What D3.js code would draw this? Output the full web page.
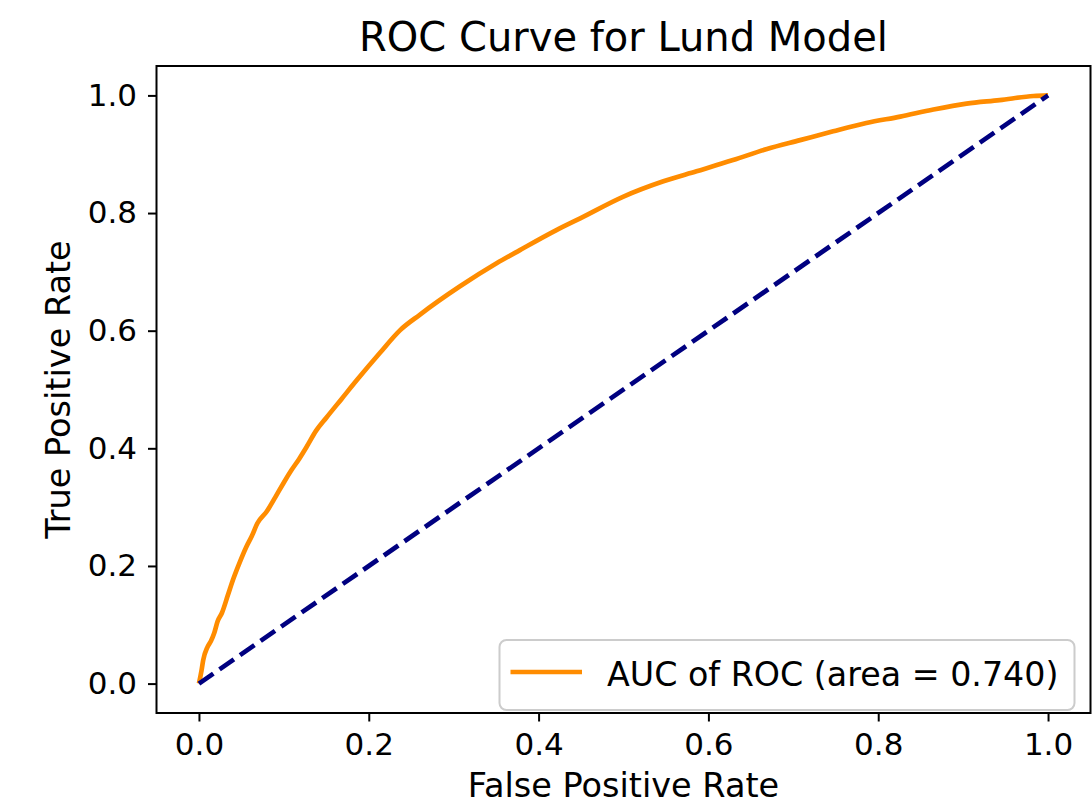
<!DOCTYPE html>
<html>
<head>
<meta charset="utf-8">
<script src="https://cdn.jsdelivr.net/npm/d3@7/dist/d3.min.js"></script>
<style>
  html, body { margin: 0; padding: 0; background: #fff; }
  svg { display: block; font-family: "DejaVu Sans", sans-serif; }
</style>
</head>
<body>
<svg id="chart" width="1092" height="809"></svg>
<script>
// ROC curve points (false positive rate, true positive rate)
const fpr = [0.000, 0.003, 0.005, 0.010, 0.014, 0.018, 0.022, 0.027, 0.034, 0.040, 0.048, 0.056, 0.062, 0.069, 0.080,
             0.090, 0.100, 0.109, 0.118, 0.127, 0.138, 0.150, 0.168, 0.186,
             0.213, 0.237, 0.260, 0.307, 0.351, 0.378, 0.421, 0.449, 0.500, 0.547, 0.586, 0.629,
             0.669, 0.708, 0.747, 0.786, 0.826, 0.865, 0.904, 0.943, 0.983, 1.000];
const tpr = [0.000, 0.022, 0.040, 0.062, 0.072, 0.086, 0.106, 0.120, 0.150, 0.176, 0.206, 0.233, 0.250, 0.273, 0.293,
             0.317, 0.342, 0.363, 0.382, 0.403, 0.430, 0.452, 0.484, 0.516,
             0.562, 0.601, 0.627, 0.675, 0.715, 0.737, 0.771, 0.791, 0.828, 0.854, 0.871, 0.890,
             0.909, 0.924, 0.939, 0.953, 0.964, 0.976, 0.986, 0.992, 0.999, 1.000];
// Chance diagonal
const chanceX = [0, 1];
const chanceY = [0, 1];
const tickValues = [0.0, 0.2, 0.4, 0.6, 0.8, 1.0];
const aucValue = 0.740;

const svg = d3.select("#chart");
const plotLeft = 156.5, plotRight = 1090.5, plotTop = 66, plotBottom = 713;

const x = d3.scaleLinear().domain([-0.05, 1.05]).range([plotLeft, plotRight]);
const y = d3.scaleLinear().domain([-0.05, 1.05]).range([plotBottom, plotTop]);

const plot = svg.append("g");
plot.append("clipPath").attr("id", "clip")
  .append("rect").attr("x", plotLeft).attr("y", plotTop)
  .attr("width", plotRight - plotLeft).attr("height", plotBottom - plotTop);

const rocLine = d3.line().x(d => x(d[0])).y(d => y(d[1])).curve(d3.curveMonotoneX);
const straight = d3.line().x(d => x(d[0])).y(d => y(d[1]));

plot.append("path")
  .datum(d3.zip(fpr, tpr))
  .attr("d", rocLine)
  .attr("fill", "none")
  .attr("stroke", "darkorange")
  .attr("stroke-width", 4.7)
  .attr("stroke-linejoin", "round")
  .attr("clip-path", "url(#clip)");

plot.append("path")
  .datum(d3.zip(chanceX, chanceY))
  .attr("d", straight)
  .attr("fill", "none")
  .attr("stroke", "navy")
  .attr("stroke-width", 4.7)
  .attr("stroke-dasharray", "17.5,7.5")
  .attr("clip-path", "url(#clip)");

// Axes
const fmt = d3.format(".1f");
const xAxis = svg.append("g").attr("transform", `translate(0,${plotBottom})`)
  .call(d3.axisBottom(x).tickValues(tickValues).tickFormat(fmt).tickSize(8.5).tickPadding(11.5));
const yAxis = svg.append("g").attr("transform", `translate(${plotLeft},0)`)
  .call(d3.axisLeft(y).tickValues(tickValues).tickFormat(fmt).tickSize(8.5).tickPadding(11));
[xAxis, yAxis].forEach(a => {
  a.select(".domain").remove();
  a.selectAll("line").attr("stroke", "#000").attr("stroke-width", 2);
  a.selectAll("text").attr("fill", "#000").style("font-size", "31px").style("font-family", "DejaVu Sans");
});

// Frame
svg.append("rect")
  .attr("x", plotLeft).attr("y", plotTop)
  .attr("width", plotRight - plotLeft).attr("height", plotBottom - plotTop)
  .attr("fill", "none").attr("stroke", "#000").attr("stroke-width", 2);

// Title and axis labels
svg.append("text").attr("x", (plotLeft + plotRight) / 2).attr("y", 51)
  .attr("text-anchor", "middle").style("font-size", "40px").text("ROC Curve for Lund Model");
svg.append("text").attr("x", (plotLeft + plotRight) / 2).attr("y", 797)
  .attr("text-anchor", "middle").style("font-size", "33.5px").text("False Positive Rate");
svg.append("text").attr("transform", `translate(70,${(plotTop + plotBottom) / 2}) rotate(-90)`)
  .attr("text-anchor", "middle").style("font-size", "33.5px").text("True Positive Rate");

// Legend
const lg = svg.append("g");
lg.append("rect").attr("x", 499.5).attr("y", 640).attr("width", 575).attr("height", 70)
  .attr("rx", 7).attr("fill", "#fff").attr("fill-opacity", 0.8)
  .attr("stroke", "#cccccc").attr("stroke-width", 2);
lg.append("line").attr("x1", 510.5).attr("x2", 582).attr("y1", 672).attr("y2", 672)
  .attr("stroke", "darkorange").attr("stroke-width", 4.7);
lg.append("text").attr("x", 607).attr("y", 686).style("font-size", "33.3px")
  .text(`AUC of ROC (area = ${aucValue.toFixed(3)})`);
</script>
</body>
</html>
